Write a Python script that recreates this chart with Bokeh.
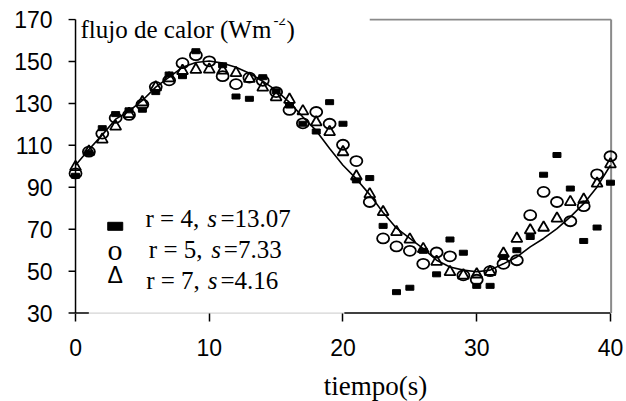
from bokeh.plotting import figure
from bokeh.models import Range1d, FixedTicker, Label, ColumnDataSource
from bokeh.embed import file_html
from bokeh.resources import INLINE

# ---------------- data ----------------
t = list(range(41))
fit_curve = [100.5, 108.0, 115.0, 122.5, 126.3, 131.4, 137.8, 142.5, 147.2, 149.5,
             150.2, 149.2, 147.3, 144.4, 140.6, 136.2, 130.5, 123.5, 117.0, 108.5,
             100.5, 94.0, 86.5, 78.0, 70.5, 65.6, 60.8, 55.2, 52.0, 50.5,
             49.7, 50.5, 53.5, 56.8, 61.6, 65.6, 70.3, 75.9, 82.2, 90.2, 100.5]
r4 = [95.5, 106.5, 118.2, 124.9, 126.7, 127.0, 135.4, 143.8, 143.0, 154.9,
      float("nan"), 148.2, 133.3, 132.2, 142.5, 135.8, 129.0, 120.3, 116.6, 130.6,
      120.3, 93.3, 94.4, 71.6, 40.0, 42.1, 59.7, 48.5, 65.1, 58.8,
      43.0, 43.0, 56.8, 60.0, 66.3, 96.0, 105.4, 89.4, 64.4, 70.8, 92.2]
r5 = [96.6, 107.0, 115.6, 123.1, 124.5, 129.5, 137.9, 141.0, 149.2, 153.0,
      150.1, 143.0, 139.2, 142.3, 140.8, 135.4, 126.9, 120.5, 125.9, 120.3,
      110.3, 102.5, 83.0, 65.6, 61.8, 59.7, 53.5, 58.9, 57.1, 48.0,
      45.9, 50.0, 53.5, 55.2, 76.7, 87.8, 83.0, 73.8, 81.0, 96.2, 104.8]
r7 = [99.7, 107.0, 112.8, 119.0, 125.0, 130.6, 137.7, 142.0, 145.5, 146.1,
      146.2, 145.7, 144.5, 141.8, 137.6, 133.0, 131.8, 126.3, 121.0, 116.4,
      106.8, 95.2, 86.7, 78.2, 68.7, 65.1, 60.6, 54.5, 49.6, 48.0,
      48.5, 49.7, 58.4, 65.5, 69.5, 70.8, 75.1, 83.0, 84.1, 91.8, 101.0]

x_ticks = [0, 10, 20, 30, 40]
y_ticks = [30, 50, 70, 90, 110, 130, 150, 170]
x_title = "tiempo(s)"
y_title = "flujo de calor (Wm"
y_title_sup = "-2"
legend_names = ["r = 4,", "r = 5,", "r = 7,"]
legend_s = ["=13.07", "=7.33", "=4.16"]

SERIF = "Liberation Serif"
SANS = "Liberation Sans"

X0, X1 = 0, 40
Y0, Y1 = 30, 170
LBL_DY = 9  # label baseline correction, px

src = ColumnDataSource(dict(t=t, fit=fit_curve, r4=r4, r5=r5, r7=r7))

# frame reaches the bottom and right edge of the canvas so the x axis (fixed at y=30),
# its tick labels and its title stay visible
p = figure(width=624, height=401,
           x_range=Range1d(-0.6, 41.05), y_range=Range1d(-12.15, 170.5),
           output_backend="svg", toolbar_location=None,
           min_border_left=67, min_border_right=0,
           min_border_top=18, min_border_bottom=0)
p.xgrid.visible = False
p.ygrid.visible = False
p.outline_line_color = None
p.background_fill_color = "white"
p.border_fill_color = "white"

for ax in (p.xaxis[0], p.yaxis[0]):
    ax.major_tick_in = 0
    ax.minor_tick_line_color = None
    ax.axis_line_color = None
    ax.major_label_text_font = SANS
    ax.major_label_text_font_size = "23px"
    ax.major_label_text_color = "black"

p.xaxis.ticker = FixedTicker(ticks=x_ticks)
p.xaxis.fixed_location = Y0
p.xaxis.major_tick_out = 8
p.xaxis.major_tick_line_color = "black"
p.xaxis.major_tick_line_width = 1.5
p.xaxis.major_label_standoff = 18

p.yaxis.ticker = FixedTicker(ticks=y_ticks)
p.yaxis.major_tick_out = 0
p.yaxis.major_tick_line_color = None
p.yaxis.major_label_standoff = 15

# y axis line and ticks at x = 0
p.segment(x0=[X0], y0=[Y0], x1=[X0], y1=[Y1], line_color="black", line_width=1.5)
p.segment(x0=[-0.52] * len(y_ticks), y0=y_ticks, x1=[X0] * len(y_ticks), y1=y_ticks,
          line_color="black", line_width=1.5)
# bottom axis line (black at both ends, faint in the middle as in the scan)
p.segment(x0=[0, 1, 20.1], y0=[Y0] * 3, x1=[1, 20.1, 40], y1=[Y0] * 3,
          line_color=["black", "#d4d4d4", "black"], line_width=[1.5, 1.2, 1.5])
# grey plot-area border (top right part and right side)
p.segment(x0=[22.0, 40.05], y0=[Y1, Y1], x1=[40.05, 40.05], y1=[Y1, Y0],
          line_color="#8a8a8a", line_width=2)

# data
p.rect(x="t", y="r4", width=8, height=5, width_units="screen", height_units="screen",
       fill_color="black", line_color="black", source=src)
p.ellipse(x="t", y="r5", width=12, height=10, width_units="screen", height_units="screen",
          fill_color=None, line_color="black", line_width=1.8, source=src)
p.scatter(x="t", y="r7", marker="triangle", size=11,
          fill_color=None, line_color="black", line_width=1.8, source=src)
p.line(x="t", y="fit", line_color="black", line_width=1.6, source=src)


def lab(x, y, text, size, font=SERIF, style="normal", align="left"):
    p.add_layout(Label(x=x, y=y, text=text, text_font=font, text_font_size=f"{size}px",
                       text_font_style=style, text_color="black", text_align=align,
                       text_baseline="alphabetic", y_offset=LBL_DY))


# y title inside the plot area
lab(0.37, 160.8, y_title, 25)
lab(14.80, 165.7, y_title_sup, 15)
lab(15.77, 160.8, ")", 25)
# x title
lab(22.43, -8.9, x_title, 27, align="center")

# legend
p.rect(x=[2.97], y=[71.4], width=15, height=8, width_units="screen", height_units="screen",
       fill_color="black", line_color="black")
lab(2.39, 56.05, "o", 30)
lab(2.39, 44.12, "\u0394", 23, font=SANS)
leg_y = [70.69, 55.90, 41.12]
leg_x_name = [5.23, 5.48, 5.28]
leg_x_s = [9.85, 10.15, 9.89]
leg_x_val = [10.84, 11.09, 10.84]
for i in range(3):
    lab(leg_x_name[i], leg_y[i], legend_names[i], 25)
    lab(leg_x_s[i], leg_y[i], "s", 25, style="italic")
    lab(leg_x_val[i], leg_y[i], legend_s[i], 25)

open("out.html", "w").write(file_html(p, INLINE))
